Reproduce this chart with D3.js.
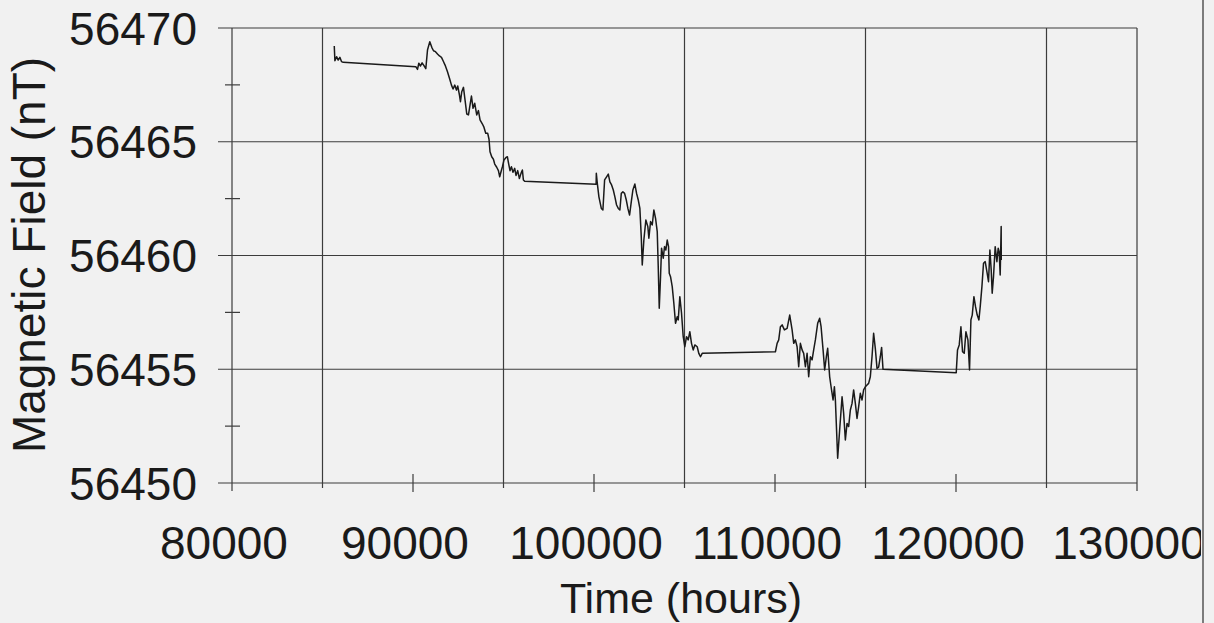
<!DOCTYPE html>
<html><head><meta charset="utf-8">
<script src="https://cdn.jsdelivr.net/npm/d3@7"></script>
<style>
html,body{margin:0;padding:0;background:#f1f1f1;}
svg{display:block;}
text{font-family:"Liberation Sans",Arial,sans-serif;fill:#1a1a1a;}
</style></head>
<body>
<svg id="chart" width="1214" height="623"></svg>
<script>
// ---- data ----
const time = [
85650,85685,85778,85867,85960,86054,86143,
90155,90249,90321,90414,90503,90597,90707,90801,90928,91038,91132,91242,91353,91463,91573,91662,91772,91905,92015,92125,92213,92307,92401,92473,92567,92622,92694,92788,92876,92970,93064,93152,93229,93317,93411,93521,93615,93704,93836,93924,94018,94128,94200,94255,94349,94443,94515,94625,94719,94791,94863,94940,95028,95139,95216,95288,95360,95437,95525,95619,95691,95785,95878,95967,96044,96099,96171,
100117,100128,100183,100271,100404,100492,100586,100696,100790,100878,100972,101066,101154,101248,101342,101430,101508,101596,101690,101784,101872,101966,102059,102148,102258,102352,102446,102534,102611,102666,102755,102865,102975,103031,103125,103218,103307,103401,103494,103549,103605,103676,103732,103825,103897,103969,104046,104118,104157,104228,104322,104411,104504,104598,104653,104742,104836,104929,105018,105111,105205,105294,105387,105481,105570,105702,105790,105884,105978,
110023,110117,110206,110299,110393,110520,110669,110813,110945,111034,111127,111221,111309,111403,111497,111585,111679,111773,111861,111955,112049,112137,112231,112358,112468,112546,112656,112744,112838,112910,113020,113098,113208,113281,113336,113462,113572,113705,113793,113887,113980,114069,114163,114256,114345,114439,114532,114621,114714,114808,114897,114991,115084,115173,115266,115360,115449,115542,115636,115725,115819,115890,115967,
120013,120084,120178,120272,120361,120454,120548,120659,120747,120824,120897,120990,121079,121172,121266,121338,121432,121520,121614,121707,121796,121873,121945,122000,122072,122165,122259,122331,122386,122441,122496,122500
];
const field = [
56469.21,56468.56,56468.74,56468.59,56468.71,56468.52,56468.49,
56468.30,56468.18,56468.45,56468.33,56468.47,56468.36,56468.21,56469.03,56469.40,56469.15,56469.00,56468.96,56468.86,56468.77,56468.71,56468.56,56468.37,56468.08,56467.79,56467.49,56467.32,56467.49,56467.27,56467.45,56467.05,56466.76,56467.20,56467.39,56466.83,56466.22,56466.18,56466.62,56467.01,56466.47,56466.69,56466.18,56466.37,56465.96,56465.78,56465.63,56465.37,56465.37,56465.11,56464.56,56464.34,56464.23,56464.02,56463.88,56463.73,56463.46,56463.68,56463.90,56464.20,56464.31,56464.34,56464.02,56463.73,56463.90,56463.66,56463.83,56463.52,56463.73,56463.38,56463.61,56463.76,56463.32,56463.26,
56463.13,56463.61,56463.17,56462.58,56462.07,56462.00,56463.32,56463.46,56463.58,56463.24,56463.10,56462.88,56462.58,56462.22,56462.07,56462.00,56462.73,56462.80,56462.73,56462.44,56462.07,56461.78,56462.36,56462.88,56463.14,56462.73,56462.44,56462.07,56460.83,56459.58,56460.68,56461.56,56461.27,56460.76,56461.49,56461.34,56462.00,56461.63,56461.05,56459.51,56457.68,56459.07,56460.32,56459.88,56460.39,56460.24,56460.68,56460.39,56459.22,56459.07,56458.63,56457.90,56457.02,56457.31,56457.17,56458.19,56457.46,56456.43,56455.99,56456.43,56456.29,56456.65,56456.14,56455.85,56456.07,56455.99,56455.70,56455.55,56455.70,
56455.77,56456.14,56456.29,56456.87,56456.95,56456.73,56456.80,56457.38,56456.73,56456.14,56456.29,56455.99,56455.11,56456.14,56455.85,56455.70,56455.11,56455.70,56454.67,56455.55,56455.41,56455.85,56456.29,56457.02,56457.24,56456.87,56455.85,56454.97,56455.55,56455.92,56454.67,56454.23,56453.65,56454.23,56453.65,56451.09,56452.33,56453.79,56453.06,56451.89,56452.62,56452.48,56453.21,56453.50,56454.09,56453.50,56452.84,56453.35,56453.94,56453.65,56454.09,56454.23,56454.31,56454.38,56454.67,56455.55,56456.58,56455.92,56455.04,56455.09,56455.55,56455.96,56455.00,
56454.85,56455.85,56456.07,56456.87,56455.77,56455.70,56456.65,56456.29,56454.97,56457.17,56457.38,56458.19,56457.75,56457.38,56457.17,56457.75,56458.63,56459.66,56459.73,56459.29,56458.85,56460.24,56459.36,56458.34,56459.07,56460.39,56459.73,56460.32,56460.17,56459.14,56461.27,56459.80
];
const xTickLabels = [80000, 90000, 100000, 110000, 120000, 130000];
const xGridValues = [85000, 95000, 105000, 115000, 125000];
const xMinorTicks = [90000, 100000, 110000, 120000];
const yTickLabels = [56450, 56455, 56460, 56465, 56470];
const yMinorTicks = [56452.5, 56457.5, 56462.5, 56467.5];
const xTitle = "Time (hours)";
const yTitle = "Magnetic Field (nT)";

// ---- drawing ----
const svg = d3.select("#chart");
const L = 232, R = 1137, T = 28, B = 483;
const x = d3.scaleLinear().domain([80000, 130000]).range([L, R]);
const y = d3.scaleLinear().domain([56450, 56470]).range([B, T]);
const gridColor = "#3c3c3c";

svg.append("rect").attr("width", 1214).attr("height", 623).attr("fill", "#f1f1f1");

svg.append("defs").append("clipPath").attr("id", "pageclip")
  .append("rect").attr("x", 0).attr("y", 0).attr("width", 1201).attr("height", 623);

const g = svg.append("g");

// horizontal gridlines (extend left as major ticks)
g.selectAll("line.hg").data(yTickLabels).join("line")
  .attr("x1", L - 14).attr("x2", R)
  .attr("y1", d => y(d)).attr("y2", d => y(d))
  .attr("stroke", gridColor).attr("stroke-width", 1.2);

// vertical gridlines
g.selectAll("line.vg").data(xGridValues).join("line")
  .attr("x1", d => x(d)).attr("x2", d => x(d))
  .attr("y1", T).attr("y2", B + 5)
  .attr("stroke", gridColor).attr("stroke-width", 1.2);

// left axis
g.append("line").attr("x1", L).attr("x2", L).attr("y1", T).attr("y2", B + 8)
  .attr("stroke", gridColor).attr("stroke-width", 1.2);
// right frame line
g.append("line").attr("x1", R).attr("x2", R).attr("y1", T).attr("y2", B + 8)
  .attr("stroke", gridColor).attr("stroke-width", 1.2);

// y minor ticks
g.selectAll("line.ym").data(yMinorTicks).join("line")
  .attr("x1", L - 7).attr("x2", L + 8)
  .attr("y1", d => y(d)).attr("y2", d => y(d))
  .attr("stroke", gridColor).attr("stroke-width", 1.2);

// x minor ticks
g.selectAll("line.xm").data(xMinorTicks).join("line")
  .attr("x1", d => x(d)).attr("x2", d => x(d))
  .attr("y1", B - 9).attr("y2", B + 9)
  .attr("stroke", gridColor).attr("stroke-width", 1.2);

// y tick labels
g.selectAll("text.yl").data(yTickLabels).join("text")
  .attr("x", 197).attr("y", d => y(d) + 16.5)
  .attr("text-anchor", "end").attr("font-size", 46)
  .text(d => d);

// x tick labels
const xl = g.append("g").attr("clip-path", "url(#pageclip)");
xl.selectAll("text").data(xTickLabels).join("text")
  .attr("x", d => x(d) - 8).attr("y", 559)
  .attr("text-anchor", "middle").attr("font-size", 46)
  .text(d => d);

// axis titles
g.append("text").attr("x", 681).attr("y", 613).attr("text-anchor", "middle")
  .attr("font-size", 43).text(xTitle);
g.append("text").attr("transform", "translate(45,255) rotate(-90)")
  .attr("text-anchor", "middle").attr("font-size", 46).text(yTitle);

// data line
const pts = time.map((t, i) => [t, field[i]]);
g.append("path").datum(pts)
  .attr("d", d3.line().x(d => x(d[0])).y(d => y(d[1])))
  .attr("fill", "none").attr("stroke", "#1a1a1a").attr("stroke-width", 1.5)
  .attr("stroke-linejoin", "round");

// page edge line (scan)
g.append("line").attr("x1", 1203).attr("x2", 1203).attr("y1", 0).attr("y2", 623)
  .attr("stroke", "#555").attr("stroke-width", 1.5);
</script>
</body></html>
